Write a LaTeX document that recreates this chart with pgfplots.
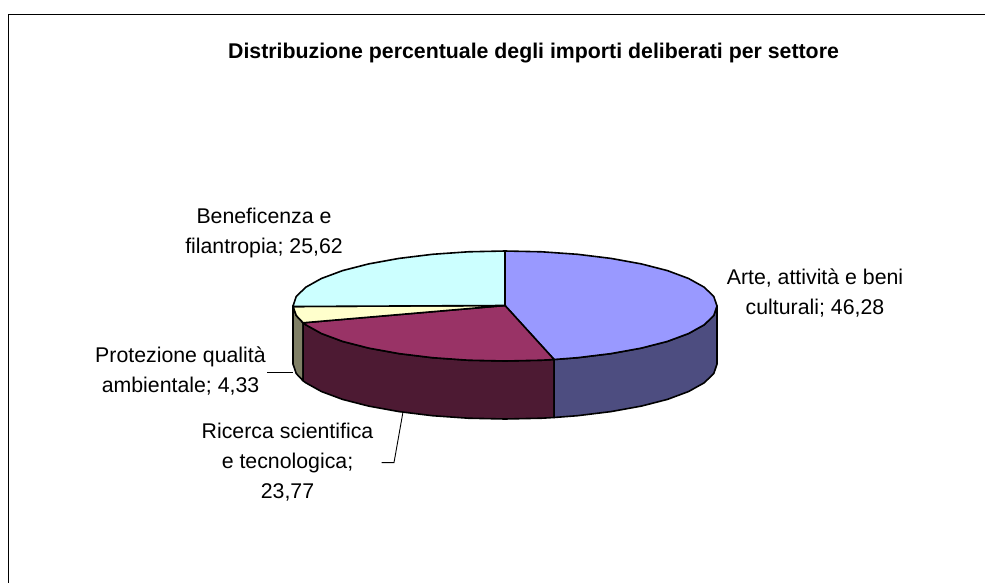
\documentclass[border=0pt]{standalone}
\usepackage{pgfplots}
\pgfplotsset{compat=1.18}
\usepackage{fontspec}
\setmainfont{Liberation Sans}
\definecolor{arteT}{HTML}{9999FF}
\definecolor{arteS}{HTML}{4D4D80}
\definecolor{ricT}{HTML}{993366}
\definecolor{ricS}{HTML}{4D1A33}
\definecolor{proT}{HTML}{FFFFCC}
\definecolor{proS}{HTML}{808066}
\definecolor{benT}{HTML}{CCFFFF}
\tikzset{
  lab/.style={font=\fontsize{21.3bp}{30bp}\selectfont,align=center,inner sep=0pt,text=black},
  pie/.style={draw=black,line width=1.6bp,line join=round,mark=none}
}
\begin{document}
\begin{tikzpicture}
\begin{axis}[
  scale only axis,width=985bp,height=583bp,
  xmin=0,xmax=985,ymin=0,ymax=583,y dir=reverse,
  hide axis
]
% page background and chart frame
\addplot[draw=none,fill=white,mark=none] coordinates {(0,0)(985,0)(985,583)(0,583)} -- cycle;
\addplot[draw=black,line width=1.4bp,mark=none] coordinates {(8.5,583)(8.5,14.5)(985,14.5)};
% side walls, Protezione 4,33 / Ricerca 23,77 / Arte 46,28
\addplot[pie,fill=proS] coordinates {(303.1,322.8)(296.2,315.5)(293.1,306.5)(293,306)(293,364)(296.2,373.5)(303.1,380.8)} -- cycle;
\addplot[pie,fill=ricS] coordinates {(554.1,359.5)(541.8,360.2)(505,361)(468.2,360.2)(432.5,357.7)(399,353.6)(368.7,348.1)(342.6,341.4)(321.4,333.5)(305.8,324.8)(303.1,322.8)
  (303.1,380.8)(305.8,382.8)(321.4,391.5)(342.6,399.4)(368.7,406.1)(399,411.6)(432.5,415.7)(468.2,418.2)(505,419)(541.8,418.2)(554.1,417.5)} -- cycle;
\addplot[pie,fill=arteS] coordinates {(717,306)(713.8,315.5)(704.2,324.8)(688.6,333.5)(667.4,341.4)(641.3,348.1)(611,353.6)(577.5,357.7)(554.1,359.5)
  (554.1,417.5)(577.5,415.7)(611,411.6)(641.3,406.1)(667.4,399.4)(688.6,391.5)(704.2,382.8)(713.8,373.5)(717,364)} -- cycle;
% top faces
\addplot[pie,fill=arteT] coordinates {(505,305.5)(505,251)(541.8,251.8)(577.5,254.3)(611,258.4)(641.3,263.9)(667.4,270.6)(688.6,278.5)(704.2,287.2)(713.8,296.5)(717,306)(713.8,315.5)(704.2,324.8)(688.6,333.5)(667.4,341.4)(641.3,348.1)(611,353.6)(577.5,357.7)(554.1,359.5)} -- cycle;
\addplot[pie,fill=ricT] coordinates {(505,305.5)(554.1,359.5)(541.8,360.2)(505,361)(468.2,360.2)(432.5,357.7)(399,353.6)(368.7,348.1)(342.6,341.4)(321.4,333.5)(305.8,324.8)(303.1,322.8)} -- cycle;
\addplot[pie,fill=proT] coordinates {(505,305.5)(303.1,322.8)(296.2,315.5)(293.1,306.5)} -- cycle;
\addplot[pie,fill=benT] coordinates {(505,305.5)(293.1,306.5)(293,306)(296.2,296.5)(305.8,287.2)(321.4,278.5)(342.6,270.6)(368.7,263.9)(399,258.4)(432.5,254.3)(468.2,251.8)(505,251)} -- cycle;
% leader lines
\addplot[black,line width=0.9bp,mark=none] coordinates {(267,372.3)(293,372.3)};
\addplot[black,line width=0.9bp,mark=none] coordinates {(381.7,462.6)(394,462.6)(402.8,413)};
% text
\node[lab,font=\bfseries\fontsize{21.3bp}{24bp}\selectfont] at (axis cs:533.5,53) {Distribuzione percentuale degli importi deliberati per settore};
\node[lab] at (axis cs:264,232.5) {Beneficenza e\\filantropia; 25,62};
\node[lab] at (axis cs:815,293) {Arte, attività e beni\\culturali; 46,28};
\node[lab] at (axis cs:180.5,371) {Protezione qualità\\ambientale; 4,33};
\node[lab] at (axis cs:287.5,462) {Ricerca scientifica\\e tecnologica;\\23,77};
\end{axis}
\end{tikzpicture}
\end{document}
